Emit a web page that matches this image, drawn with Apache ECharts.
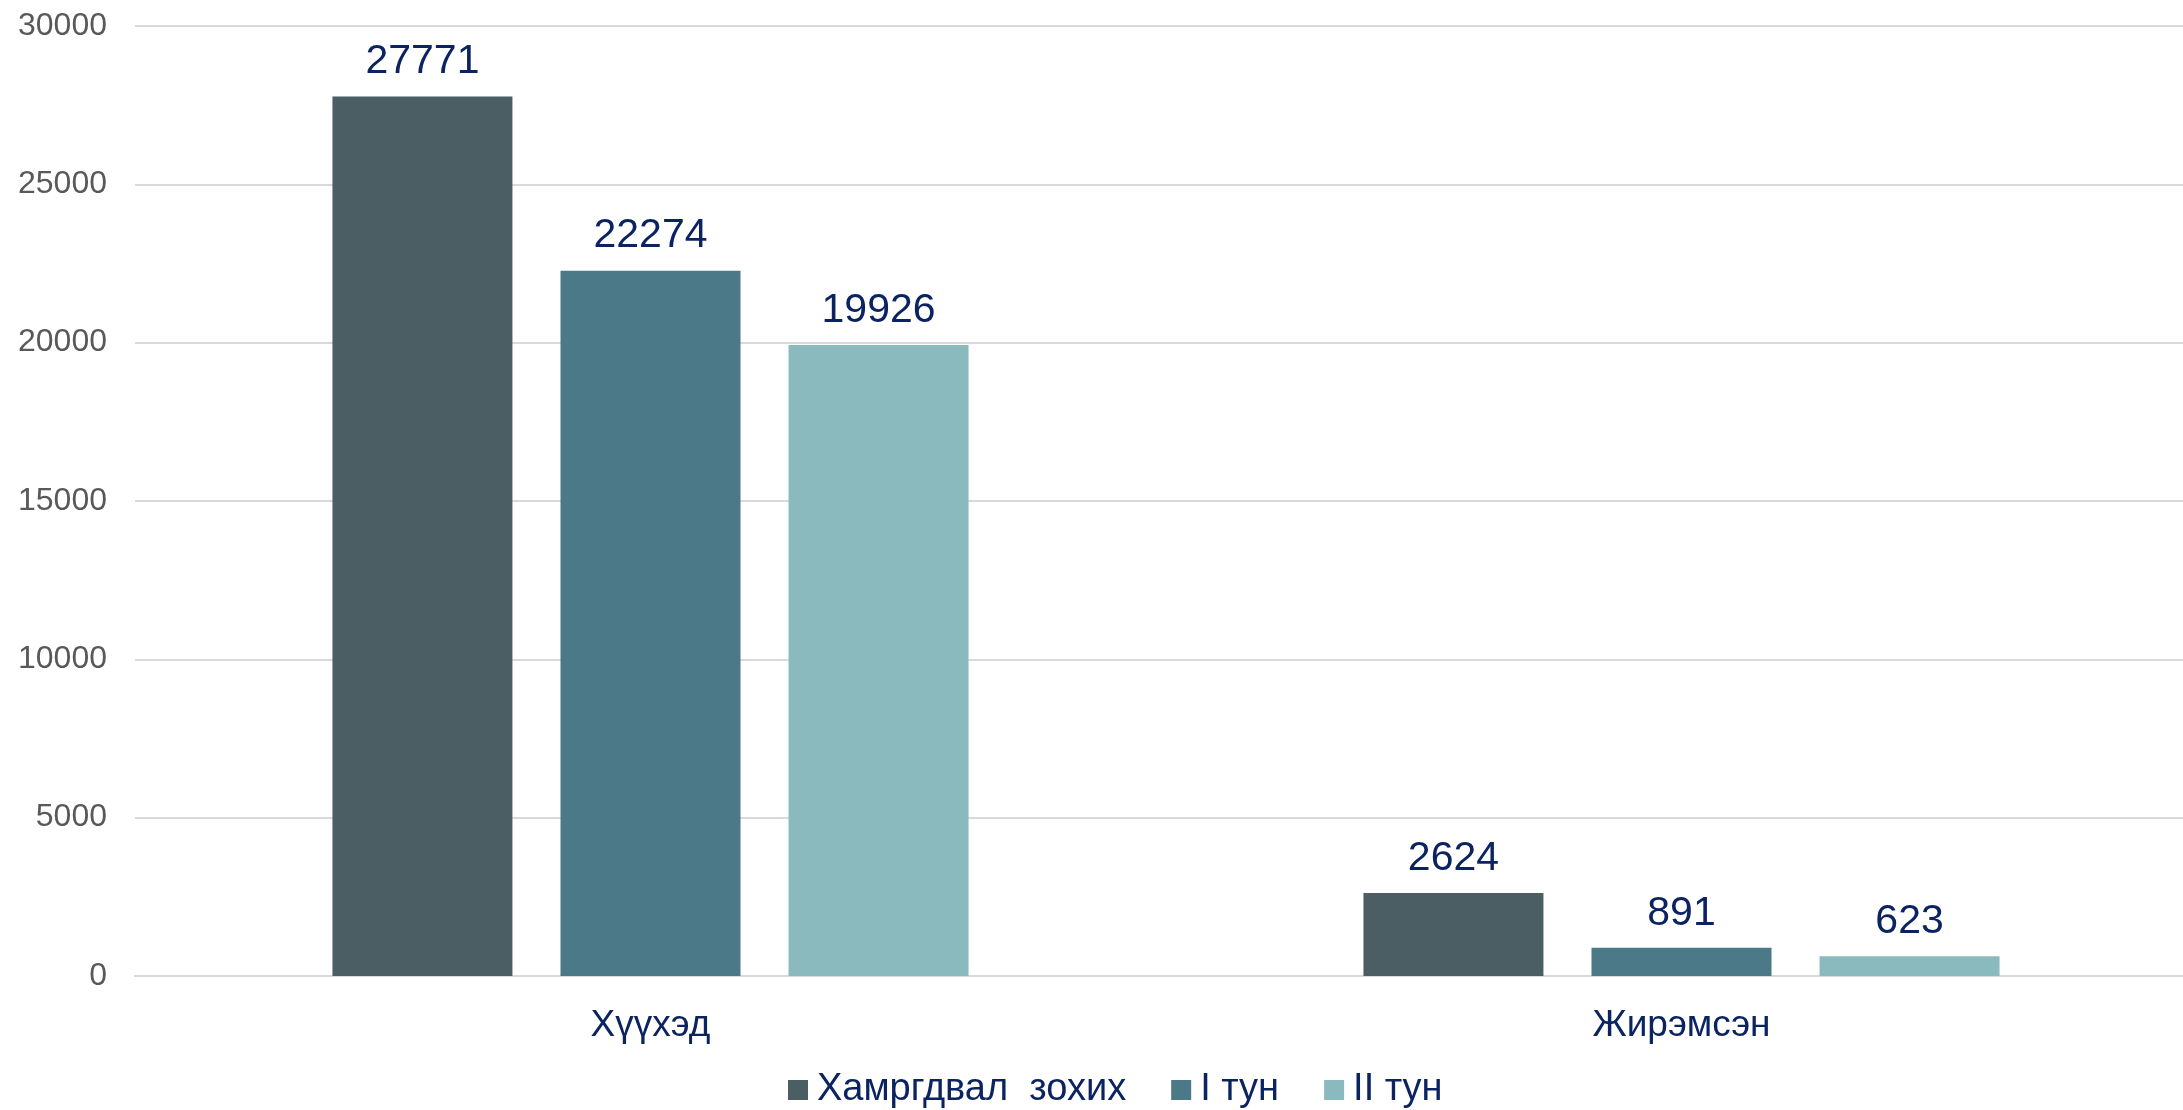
<!DOCTYPE html>
<html>
<head>
<meta charset="utf-8">
<script src="https://cdn.jsdelivr.net/npm/echarts@6/dist/echarts.min.js"></script>
<style>
html,body{margin:0;padding:0;background:#fff;}
#chart{width:2183px;height:1110px;}
</style>
</head>
<body>
<div id="chart"></div>
<script>
const categories = ['Хүүхэд', 'Жирэмсэн'];
const seriesNames = ['Хамргдвал  зохих', 'I тун', 'II тун'];
const eligible = [27771, 2624];
const dose1 = [22274, 891];
const dose2 = [19926, 623];
const colors = ['#4B5E64', '#4B7987', '#8BBABE'];
const yTicks = { min: 0, max: 30000, interval: 5000 };

const font = "'Liberation Sans', Arial, sans-serif";
const chart = echarts.init(document.getElementById('chart'), null, { renderer: 'canvas' });

const dataSets = [eligible, dose1, dose2];
chart.setOption({
  animation: false,
  backgroundColor: '#ffffff',
  grid: { left: 135, right: -14, top: 26, bottom: 134, containLabel: false, outerBoundsMode: 'none' },
  legend: {
    data: seriesNames,
    left: 788,
    top: 1071,
    padding: 0,
    itemWidth: 20,
    itemHeight: 20,
    itemGap: 45,
    icon: 'rect',
    textStyle: { fontFamily: font, fontSize: 38, color: '#0B2461', padding: [0, 0, 0, 4] }
  },
  xAxis: {
    type: 'category',
    data: categories,
    axisLine: { show: true, lineStyle: { color: '#d9d9d9', width: 2 } },
    axisTick: { show: false },
    axisLabel: { fontFamily: font, fontSize: 37, color: '#0B2461', margin: 31 }
  },
  yAxis: {
    type: 'value',
    min: yTicks.min,
    max: yTicks.max,
    interval: yTicks.interval,
    axisLine: { show: false },
    axisTick: { show: false },
    splitLine: { lineStyle: { color: '#d9d9d9', width: 2 } },
    axisLabel: {
      fontFamily: font, fontSize: 32, color: '#595959', margin: 28,
      formatter: v => String(v)
    }
  },
  series: seriesNames.map((name, i) => ({
    name: name,
    type: 'bar',
    data: dataSets[i],
    barWidth: 180,
    barGap: '26.7%',
    itemStyle: { color: colors[i] },
    label: {
      show: true,
      position: 'top',
      distance: 14,
      fontFamily: font,
      fontSize: 41,
      color: '#0B2461'
    }
  }))
});
</script>
</body>
</html>
